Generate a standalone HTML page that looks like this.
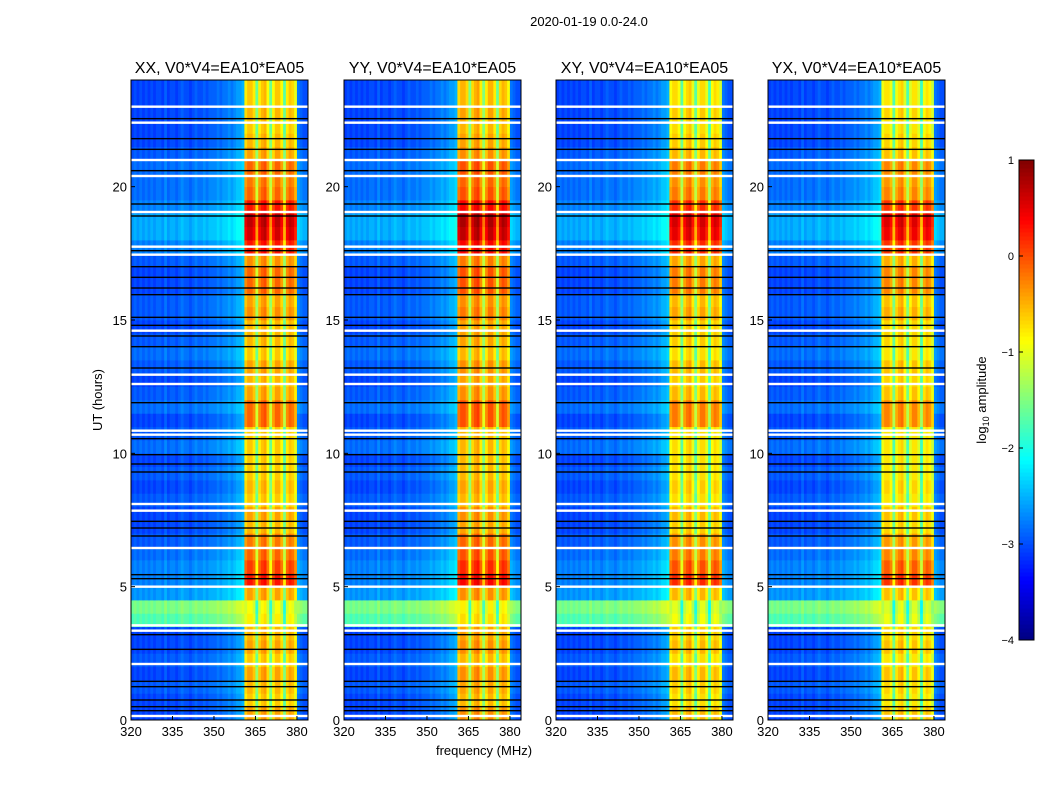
<!DOCTYPE html>
<html><head><meta charset="utf-8"><style>
body{margin:0;background:#fff;width:1050px;height:800px;overflow:hidden;font-family:"Liberation Sans",sans-serif}
svg text{font-family:"Liberation Sans",sans-serif}
</style></head><body>
<svg id="fig" width="1050" height="800" xmlns="http://www.w3.org/2000/svg">
<text x="589" y="26" font-size="13" text-anchor="middle">2020-01-19 0.0-24.0</text>
<text x="484" y="755" font-size="13" text-anchor="middle">frequency (MHz)</text>
<text x="102" y="400" font-size="13" text-anchor="middle" transform="rotate(-90 102 400)">UT (hours)</text>
<g id="panels"></g>
<g id="cbar"></g>
<text x="986" y="400" font-size="13" text-anchor="middle" transform="rotate(-90 986 400)">log<tspan font-size="9" dy="3">10</tspan><tspan dy="-3"> amplitude</tspan></text>
</svg>
<script>
// ---- data ----
const panelTitles=["XX, V0*V4=EA10*EA05","YY, V0*V4=EA10*EA05","XY, V0*V4=EA10*EA05","YX, V0*V4=EA10*EA05"];
const panelBandOffset=[0,0.1,-0.1,-0.15];
const freqStart=320, freqStep=1;
// log10 amplitude baseline per 1 MHz channel, 320..383
const colBase=[-3.1,-3.0,-3.1,-3.0,-3.1,-3.0,-3.1,-3.0,-3.1,-3.0,-3.0,-3.1,-2.9,-3.1,-3.0,-3.0,-3.1,-3.0,-2.9,-3.0,
-3.0,-3.1,-3.0,-2.9,-3.0,-3.0,-2.9,-3.0,-2.9,-2.9,-2.9,-2.8,-2.9,-2.8,-2.8,-2.7,-2.8,-2.7,-2.6,-2.6,
-2.5,-0.8,-0.6,-0.6,-0.8,-1.6,-0.8,-0.6,-0.5,-0.9,-1.6,-0.9,-0.6,-0.6,-0.9,-1.7,-0.8,-0.6,-0.7,-1.0,
-2.8,-2.9,-3.0,-3.0];
// per 0.5 h row modifiers, 0..24 h (48 rows)
const bgMod=[0,0,0.1,0,0.1,0,0,1.3,1.5,0.4,0.3,0.3,0.2,0.1,0,0,0.1,0,0.1,0,0.2,0.1,0,0.2,
0.1,0,0.1,0.2,0.1,0,0.1,0.1,0,0,0.1,0.3,0.5,0.5,0.3,0.2,0.2,0.2,0.1,0,0,0,0,0];
const bandMod=[0.2,0,0.1,0.2,0,0.2,0.1,-0.2,-0.3,0.2,0.9,0.7,0.5,0.4,0.1,0.2,0,0.1,0,0,0,0,0.5,0.5,
0.2,0.1,0.2,0,0.1,0.1,0.3,0.2,0.5,0.5,0.3,0.9,1.2,1.3,0.9,0.5,0.4,0.5,0.2,0.1,0,0.1,0,0];
const whiteFlags=[0.15,2.1,3.35,3.55,5.0,6.45,7.85,8.1,10.7,10.85,12.6,12.95,14.6,17.45,17.75,19.05,20.4,21.0,22.4,23.0];
const blackFlags=[0.35,0.5,0.75,1.25,1.45,2.65,3.2,5.3,5.45,6.9,7.2,7.45,9.3,9.6,9.95,10.55,11.9,13.2,14.0,14.4,14.8,15.1,15.95,16.2,16.6,17.0,17.6,18.9,19.35,20.6,21.4,21.8,22.55];
const xTicks=[320,335,350,365,380];
const yTicks=[0,5,10,15,20];
const cbTicks=[1,0,-1,-2,-3,-4];
// ---- layout ----
const NS="http://www.w3.org/2000/svg";
const panelX=[131,344,556,768], pw=177, pTop=80, pBot=720;
const fMin=320,fMax=384,tMax=24;
function jet(v){let t=(v+4)/5;t=Math.max(0,Math.min(1,t));
 const c=x=>Math.round(255*Math.max(0,Math.min(1,x)));
 return `rgb(${c(1.5-Math.abs(4*t-3))},${c(1.5-Math.abs(4*t-2))},${c(1.5-Math.abs(4*t-1))})`;}
function mk(tag,attrs,parent){const e=document.createElementNS(NS,tag);for(const k in attrs)e.setAttribute(k,attrs[k]);parent.appendChild(e);return e;}
const panelsG=document.getElementById('panels');
panelTitles.forEach((title,p)=>{
 const x0=panelX[p];
 const xs=f=>x0+(f-fMin)/(fMax-fMin)*pw;
 const ys=h=>pBot-h/tMax*(pBot-pTop);
 const g=mk('g',{},panelsG);
 
 
 const hm=mk('g',{},g);
 
 
 const rowH=tMax/bgMod.length;
 colBase.forEach((b,ci)=>{
  const f=freqStart+ci*freqStep, inBand=b>-2;
  for(let r=0;r<bgMod.length;r++){
   const v=b+(inBand?bandMod[r]+panelBandOffset[p]:bgMod[r]);
   const x=xs(f),y=ys((r+1)*rowH);
   const rc=mk('rect',{x:x.toFixed(2),y:y.toFixed(2),width:(xs(f+freqStep)-x+0.4).toFixed(2),height:(ys(r*rowH)-y+0.4).toFixed(2),fill:jet(v)},hm);
   
   
  }
 });
 blackFlags.forEach(h=>{const l=mk('rect',{x:x0,y:ys(h)-0.7,width:pw,height:1.4,fill:'#000'},g);
  
  });
 whiteFlags.forEach(h=>{const l=mk('rect',{x:x0,y:ys(h)-1.2,width:pw,height:2.4,fill:'#fff'},g);
  
  });
 const fr=mk('rect',{x:x0,y:pTop,width:pw,height:pBot-pTop,fill:'none',stroke:'#000','stroke-width':1},g);
 
 
 const t=mk('text',{x:x0+pw/2,y:pTop-7,'font-size':16,'text-anchor':'middle'},g);t.textContent=title;
 
 
 xTicks.forEach(v=>{const x=xs(v);
  mk('line',{x1:x,x2:x,y1:pBot,y2:pBot-4,stroke:'#000'},g);
  const tt=mk('text',{x:x,y:pBot+16,'font-size':13,'text-anchor':'middle'},g);tt.textContent=v;
  
  });
 yTicks.forEach(v=>{const y=ys(v);
  mk('line',{x1:x0,x2:x0+4,y1:y,y2:y,stroke:'#000'},g);
  const tt=mk('text',{x:x0-4,y:y+5,'font-size':13,'text-anchor':'end'},g);tt.textContent=v;
  
  });
});
// colorbar
const cb=document.getElementById('cbar');
const cbx=1019,cbw=15,cbt=160,cbb=640;
const cys=v=>cbb-(v+4)/5*(cbb-cbt);
for(let i=0;i<120;i++){const v=-4+5*i/120;
 mk('rect',{x:cbx,y:cys(v+5/120),width:cbw,height:(cbb-cbt)/120+0.5,fill:jet(v+2.5/120)},cb);}
mk('rect',{x:cbx,y:cbt,width:cbw,height:cbb-cbt,fill:'none',stroke:'#000'},cb);
cbTicks.forEach(v=>{const y=cys(v);
 mk('line',{x1:cbx,x2:cbx+4,y1:y,y2:y,stroke:'#000'},cb);
 const tt=mk('text',{x:cbx-5,y:y+4,'font-size':11,'text-anchor':'end'},cb);tt.textContent=(v<0?'\u2212'+(-v):v);
 
 });
</script>
</body></html>
